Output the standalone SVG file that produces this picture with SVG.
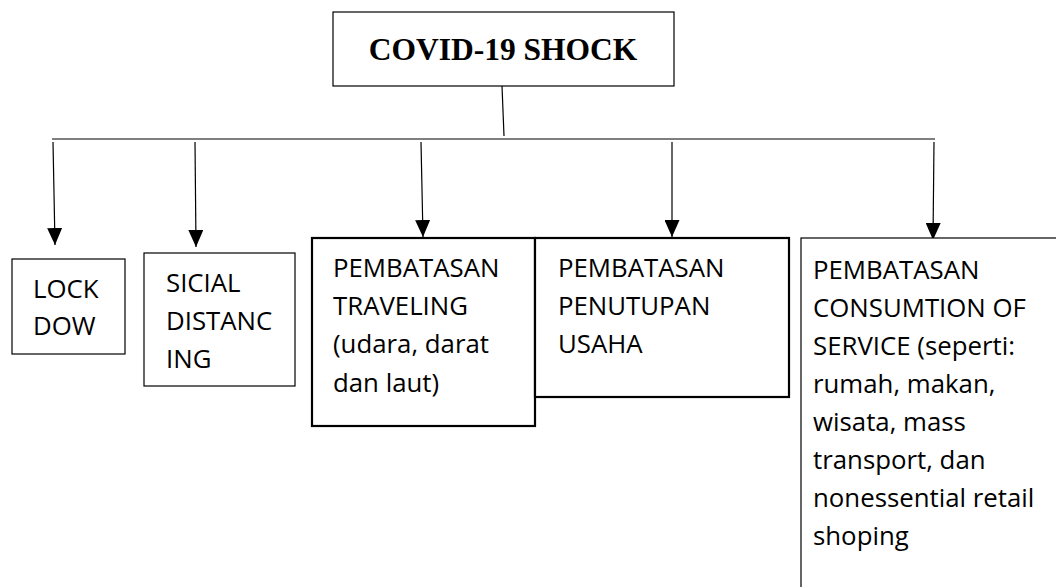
<svg xmlns="http://www.w3.org/2000/svg" width="1056" height="587" viewBox="0 0 1056 587">
<style>
.box{fill:#fff;stroke:#000;stroke-width:1.2}
.thick{stroke-width:2.2}
.lbl{font-family:"Open Sans","Liberation Sans",sans-serif;font-size:25.8px;fill:#000}
.title{font-family:"Liberation Serif","Times New Roman",serif;font-weight:bold;font-size:31.5px;fill:#000}
.ln{fill:none;stroke:#000;stroke-width:1.2}
</style>
<defs>
<marker id="ah" viewBox="0 0 17 15" markerUnits="userSpaceOnUse" markerWidth="17" markerHeight="15" refX="17" refY="7.5" orient="auto">
<path d="M0,0 L17,7.5 L0,15 z" fill="#000"/>
</marker>
</defs>
<g id="covid-shock">
<rect class="box" x="333" y="12" width="341" height="74"/>
<text class="title" x="503" y="60" text-anchor="middle">COVID-19 SHOCK</text>
</g>
<g id="connectors">
<line class="ln" x1="502" y1="86" x2="504" y2="136"/>
<line class="ln" x1="52" y1="139" x2="935" y2="139"/>
<line class="ln" x1="53" y1="142" x2="55" y2="245" marker-end="url(#ah)"/>
<line class="ln" x1="195" y1="142" x2="196" y2="247" marker-end="url(#ah)"/>
<line class="ln" x1="421" y1="142" x2="423" y2="237" marker-end="url(#ah)"/>
<line class="ln" x1="672" y1="142" x2="672" y2="237" marker-end="url(#ah)"/>
<line class="ln" x1="934" y1="142" x2="933" y2="240" marker-end="url(#ah)"/>
</g>
<g id="lockdown">
<rect class="box" x="12" y="259" width="113" height="95"/>
<text class="lbl" x="33" y="298">LOCK</text>
<text class="lbl" x="33" y="335">DOW</text>
</g>
<g id="social-distancing">
<rect class="box" x="144" y="253" width="151" height="133"/>
<text class="lbl" x="166" y="292">SICIAL</text>
<text class="lbl" x="166" y="330">DISTANC</text>
<text class="lbl" x="166" y="368">ING</text>
</g>
<g id="pembatasan-traveling">
<rect class="box thick" x="312" y="238" width="223" height="188"/>
<text class="lbl" x="333" y="277">PEMBATASAN</text>
<text class="lbl" x="333" y="315">TRAVELING</text>
<text class="lbl" x="333" y="353">(udara, darat</text>
<text class="lbl" x="333" y="392">dan laut)</text>
</g>
<g id="pembatasan-penutupan">
<rect class="box thick" x="535" y="238" width="254" height="159"/>
<text class="lbl" x="558" y="277">PEMBATASAN</text>
<text class="lbl" x="558" y="315">PENUTUPAN</text>
<text class="lbl" x="558" y="353">USAHA</text>
</g>
<g id="pembatasan-consumtion">
<rect class="box" x="801" y="238" width="300" height="400"/>
<text class="lbl" x="813" y="279">PEMBATASAN</text>
<text class="lbl" x="813" y="317">CONSUMTION OF</text>
<text class="lbl" x="813" y="355">SERVICE (seperti:</text>
<text class="lbl" x="813" y="393">rumah, makan,</text>
<text class="lbl" x="813" y="431">wisata, mass</text>
<text class="lbl" x="813" y="469">transport, dan</text>
<text class="lbl" x="813" y="507">nonessential retail</text>
<text class="lbl" x="813" y="545">shoping</text>
</g>
</svg>
